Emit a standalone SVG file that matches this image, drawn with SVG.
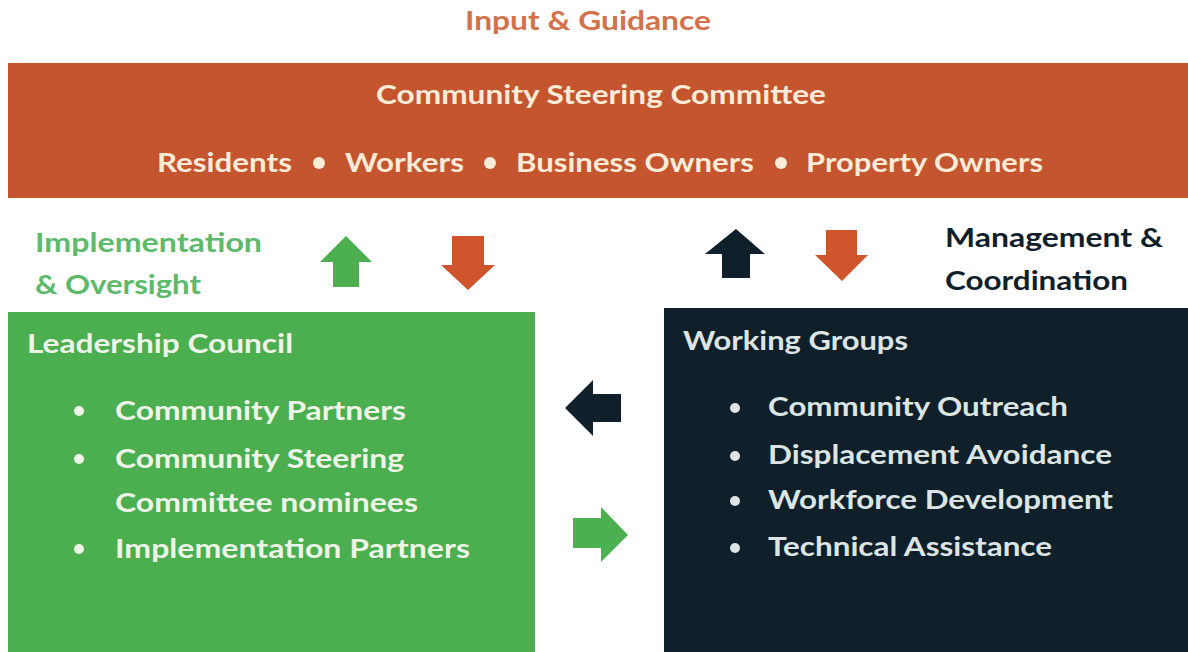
<svg xmlns="http://www.w3.org/2000/svg" width="1188" height="652" viewBox="0 0 1188 652">
<style>
text{font-family:Lato,"Open Sans","Liberation Sans",sans-serif;font-weight:bold;font-size:27px}
.cream{fill:#FCEBD7}
.lt{fill:#EEF5E8}
.wg{fill:#DCE5E4}
.or{fill:#D2714A}
.gr{fill:#5DBA6A}
.dk{fill:#10202B}
.ga{fill:#4CAF50}
.oa{fill:#D0552C}
.da{fill:#10202B}
</style>
<rect width="1188" height="652" fill="#ffffff"/>
<g id="label-input">
<text class="or" x="465" y="30" textLength="246" lengthAdjust="spacingAndGlyphs">Input &amp; Guidance</text>
</g>
<g id="steering-committee">
<rect x="8" y="63" width="1180" height="135" fill="#C4552F"/>
<text class="cream" x="376" y="104" textLength="450" lengthAdjust="spacingAndGlyphs">Community Steering Committee</text>
<text class="cream" x="157" y="172" textLength="135" lengthAdjust="spacingAndGlyphs">Residents</text>
<circle class="cream" cx="319" cy="163" r="6"/>
<text class="cream" x="345" y="172" textLength="119" lengthAdjust="spacingAndGlyphs">Workers</text>
<circle class="cream" cx="490" cy="163" r="6"/>
<text class="cream" x="516" y="172" textLength="238" lengthAdjust="spacingAndGlyphs">Business Owners</text>
<circle class="cream" cx="781" cy="163" r="6"/>
<text class="cream" x="806" y="172" textLength="237" lengthAdjust="spacingAndGlyphs">Property Owners</text>
</g>
<g id="label-implementation">
<text class="gr" x="35" y="252" textLength="227" lengthAdjust="spacingAndGlyphs">Implementation</text>
<text class="gr" x="35" y="294" textLength="166" lengthAdjust="spacingAndGlyphs">&amp; Oversight</text>
</g>
<g id="label-management">
<text class="dk" x="945" y="247" textLength="218" lengthAdjust="spacingAndGlyphs">Management &amp;</text>
<text class="dk" x="945" y="290" textLength="183" lengthAdjust="spacingAndGlyphs">Coordination</text>
</g>
<g id="leadership-council">
<rect x="8" y="312" width="527" height="340" fill="#4BAE4F"/>
<text class="lt" x="27" y="353" textLength="266" lengthAdjust="spacingAndGlyphs">Leadership Council</text>
<circle class="lt" cx="79" cy="411" r="5"/>
<text class="lt" x="115" y="420" textLength="291" lengthAdjust="spacingAndGlyphs">Community Partners</text>
<circle class="lt" cx="79" cy="459" r="5"/>
<text class="lt" x="115" y="468" textLength="289" lengthAdjust="spacingAndGlyphs">Community Steering</text>
<text class="lt" x="115" y="512" textLength="303" lengthAdjust="spacingAndGlyphs">Committee nominees</text>
<circle class="lt" cx="79" cy="549" r="5"/>
<text class="lt" x="115" y="558" textLength="355" lengthAdjust="spacingAndGlyphs">Implementation Partners</text>
</g>
<g id="working-groups">
<rect x="664" y="308" width="524" height="344" fill="#10202B"/>
<text class="wg" x="683" y="350" textLength="225" lengthAdjust="spacingAndGlyphs">Working Groups</text>
<circle class="wg" cx="735" cy="408" r="5"/>
<text class="wg" x="768" y="416" textLength="300" lengthAdjust="spacingAndGlyphs">Community Outreach</text>
<circle class="wg" cx="735" cy="456" r="5"/>
<text class="wg" x="768" y="464" textLength="344" lengthAdjust="spacingAndGlyphs">Displacement Avoidance</text>
<circle class="wg" cx="735" cy="501" r="5"/>
<text class="wg" x="768" y="509" textLength="345" lengthAdjust="spacingAndGlyphs">Workforce Development</text>
<circle class="wg" cx="735" cy="548" r="5"/>
<text class="wg" x="768" y="556" textLength="284" lengthAdjust="spacingAndGlyphs">Technical Assistance</text>
</g>
<g id="connectors">
<polygon class="ga" points="346,236 372,262 359,262 359,287 333,287 333,262 320,262"/>
<polygon class="oa" points="452,236 484,236 484,265 495,265 468,290 441,265 452,265"/>
<polygon class="da" points="736,229 765,254 750,254 750,278 722,278 722,254 705,254"/>
<polygon class="oa" points="826,230 857,230 857,255 868,255 842,281 815,255 826,255"/>
<polygon class="da" points="565,408 593,380 593,394 621,394 621,422 593,422 593,436"/>
<polygon class="ga" points="573,518 601,518 601,507 628,535 601,562 601,548 573,548"/>
</g>
</svg>
